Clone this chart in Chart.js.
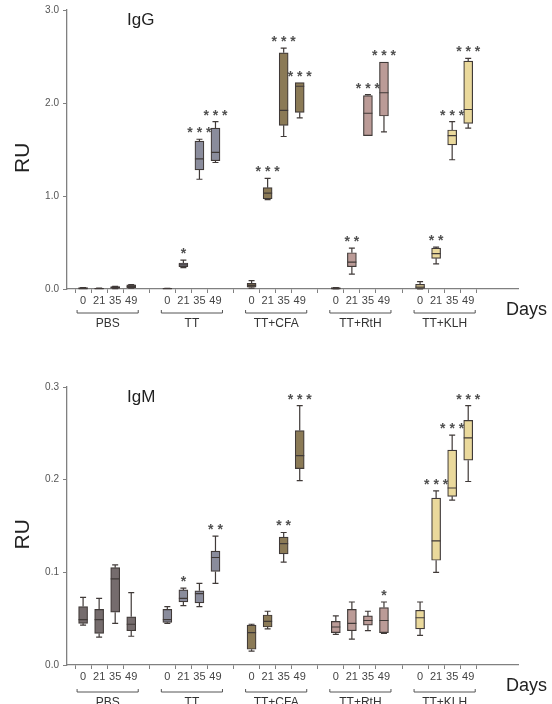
<!DOCTYPE html>
<html>
<head>
<meta charset="utf-8">
<script src="https://cdn.jsdelivr.net/npm/chart.js@4.4.1/dist/chart.umd.min.js"></script>
<style>
  html, body { margin: 0; padding: 0; background: #fff; }
  .panel { position: absolute; left: 0; width: 552px; height: 352px; }
</style>
</head>
<body>
<div class="panel" style="top:0"><canvas id="igg" width="552" height="352"></canvas></div>
<div class="panel" style="top:352px"><canvas id="igm" width="552" height="352"></canvas></div>
<script>
const groups = ['PBS', 'TT', 'TT+CFA', 'TT+RtH', 'TT+KLH'];
const days = ['0', '21', '35', '49'];
const groupColors = ['#756c6d', '#8a8c9c', '#8b7a56', '#bb9b97', '#ead99c'];

// IgG, RU - order: group by group, days 0/21/35/49
const igGMin = [0, 0, 0.005, 0.01, 0, 0.23, 1.18, 1.36, 0.01, 0.96, 1.64, 1.84, 0, 0.16, 1.65, 1.69, 0, 0.27, 1.39, 1.73];
const igGQ1 = [0, 0, 0.01, 0.015, 0, 0.24, 1.28, 1.38, 0.02, 0.97, 1.76, 1.90, 0.002, 0.24, 1.65, 1.86, 0.005, 0.33, 1.55, 1.78];
const igGMed = [0.005, 0.004, 0.015, 0.025, 0.003, 0.26, 1.40, 1.47, 0.04, 1.03, 1.92, 2.18, 0.005, 0.29, 1.89, 2.11, 0.02, 0.38, 1.65, 1.93];
const igGQ3 = [0.014, 0.008, 0.025, 0.045, 0.006, 0.28, 1.59, 1.73, 0.06, 1.09, 2.54, 2.22, 0.014, 0.39, 2.08, 2.44, 0.05, 0.44, 1.71, 2.45];
const igGMax = [0.016, 0.01, 0.028, 0.048, 0.008, 0.31, 1.61, 1.80, 0.09, 1.19, 2.59, 2.22, 0.016, 0.44, 2.09, 2.44, 0.08, 0.45, 1.80, 2.48];
const igGStars = ['', '', '', '', '', '*', '***', '***', '', '***', '***', '***', '', '**', '***', '***', '', '**', '***', '***'];
const igGTicks = [0, 1, 2, 3];

// IgM, RU
const igMMin = [0.043, 0.030, 0.045, 0.031, 0.045, 0.064, 0.063, 0.088, 0.015, 0.039, 0.111, 0.199, 0.033, 0.028, 0.037, 0.034, 0.032, 0.100, 0.178, 0.198];
const igMQ1 = [0.045, 0.034, 0.057, 0.037, 0.046, 0.068, 0.067, 0.101, 0.017, 0.041, 0.120, 0.212, 0.035, 0.037, 0.043, 0.035, 0.039, 0.113, 0.182, 0.221];
const igMMed = [0.049, 0.049, 0.093, 0.044, 0.049, 0.072, 0.077, 0.116, 0.035, 0.047, 0.131, 0.226, 0.041, 0.045, 0.048, 0.048, 0.051, 0.134, 0.191, 0.245];
const igMQ3 = [0.063, 0.060, 0.105, 0.052, 0.060, 0.081, 0.080, 0.123, 0.043, 0.054, 0.138, 0.253, 0.047, 0.060, 0.053, 0.062, 0.059, 0.180, 0.232, 0.264];
const igMMax = [0.073, 0.072, 0.108, 0.078, 0.063, 0.083, 0.088, 0.139, 0.044, 0.058, 0.143, 0.280, 0.053, 0.068, 0.058, 0.068, 0.068, 0.188, 0.248, 0.280];
const igMStars = ['', '', '', '', '', '*', '', '**', '', '', '**', '***', '', '', '', '*', '', '***', '***', '***'];
const igMTicks = [0, 0.1, 0.2, 0.3];

const GROUP_STEP = 5.25;
const xPositions = groups.flatMap((g, gi) => days.map((d, di) => gi * GROUP_STEP + di));

const FONT = "'Liberation Sans', Arial, sans-serif";
const AXIS_COLOR = '#808080';
const LINE_COLOR = '#403a38';
const BOX_W = 9;

// whiskers, medians, stars, brackets and labels
const boxExtras = {
  id: 'boxExtras',
  afterDatasetsDraw(chart) {
    const o = chart.options.plugins.boxExtras;
    const xs = chart.scales.x;
    const ys = chart.scales.y;
    const ctx = chart.ctx;
    ctx.save();
    ctx.strokeStyle = LINE_COLOR;
    ctx.lineWidth = 1.2;
    xPositions.forEach((pos, i) => {
      const x = xs.getPixelForValue(pos);
      const yMin = ys.getPixelForValue(o.min[i]);
      const yQ1 = ys.getPixelForValue(o.q1[i]);
      const yQ3 = ys.getPixelForValue(o.q3[i]);
      const yMax = ys.getPixelForValue(o.max[i]);
      const yMed = ys.getPixelForValue(o.med[i]);
      ctx.beginPath();
      if (o.max[i] > o.q3[i]) {
        ctx.moveTo(x, yQ3); ctx.lineTo(x, yMax);
        ctx.moveTo(x - 3, yMax); ctx.lineTo(x + 3, yMax);
      }
      if (o.min[i] < o.q1[i]) {
        ctx.moveTo(x, yQ1); ctx.lineTo(x, yMin);
        ctx.moveTo(x - 3, yMin); ctx.lineTo(x + 3, yMin);
      }
      ctx.moveTo(x - BOX_W / 2, yMed); ctx.lineTo(x + BOX_W / 2, yMed);
      ctx.stroke();

      if (o.stars[i]) {
        ctx.fillStyle = '#505050';
        ctx.font = 'bold 14px ' + FONT;
        ctx.textAlign = 'center';
        ctx.textBaseline = 'alphabetic';
        ctx.fillText(o.stars[i].split('').join(' '), x, yMax - 2);
      }
    });
    ctx.restore();
  },
  afterDraw(chart) {
    const o = chart.options.plugins.boxExtras;
    const xs = chart.scales.x;
    const area = chart.chartArea;
    const ctx = chart.ctx;
    ctx.save();

    // panel title
    ctx.fillStyle = '#222';
    ctx.font = '17px ' + FONT;
    ctx.textAlign = 'left';
    ctx.textBaseline = 'alphabetic';
    ctx.fillText(o.title, area.left + 60, area.top + 15);

    // RU axis title
    ctx.save();
    ctx.translate(23, area.top + (area.bottom - area.top) * 0.53);
    ctx.rotate(-Math.PI / 2);
    ctx.font = '21px ' + FONT;
    ctx.textAlign = 'center';
    ctx.textBaseline = 'middle';
    ctx.fillText('RU', 0, 0);
    ctx.restore();

    // Days
    ctx.font = '18px ' + FONT;
    ctx.fillText('Days', 506, area.bottom + 26);

    // group brackets
    const yb = area.bottom + o.bracketOffset;
    ctx.strokeStyle = '#555';
    ctx.lineWidth = 1;
    ctx.fillStyle = '#333';
    ctx.font = '12px ' + FONT;
    ctx.textAlign = 'center';
    ctx.textBaseline = 'middle';
    groups.forEach((g, gi) => {
      const x0 = xs.getPixelForValue(xPositions[gi * 4]) - 6;
      const x1 = xs.getPixelForValue(xPositions[gi * 4 + 3]) + 7;
      ctx.beginPath();
      ctx.moveTo(x0, yb - 3); ctx.lineTo(x0, yb); ctx.lineTo(x1, yb); ctx.lineTo(x1, yb - 3);
      ctx.stroke();
      ctx.fillText(g, (x0 + x1) / 2, yb + 11);
    });
    ctx.restore();
  }
};

function buildPanel(canvasId, cfg) {
  return new Chart(document.getElementById(canvasId), {
    type: 'bar',
    data: {
      datasets: [{
        data: xPositions.map((pos, i) => ({ x: pos, y: [cfg.q1[i], cfg.q3[i]] })),
        backgroundColor: xPositions.map((_, i) => groupColors[Math.floor(i / 4)]),
        borderColor: LINE_COLOR,
        borderWidth: 1.2,
        borderSkipped: false,
        barThickness: BOX_W
      }]
    },
    options: {
      responsive: false,
      animation: false,
      layout: { padding: { top: cfg.padTop, right: 34, left: 0, bottom: 0 } },
      plugins: {
        legend: { display: false },
        tooltip: { enabled: false },
        boxExtras: cfg
      },
      scales: {
        x: {
          type: 'linear',
          min: -0.3,
          max: 26.4,
          afterBuildTicks: axis => { axis.ticks = xPositions.map(v => ({ value: v })); },
          afterFit: axis => { axis.height = cfg.xHeight; },
          grid: { drawOnChartArea: false, tickLength: 4, color: AXIS_COLOR },
          border: { color: AXIS_COLOR, width: 1.3 },
          ticks: {
            autoSkip: false,
            maxRotation: 0,
            padding: 1,
            color: '#444',
            font: { family: FONT, size: 11 },
            callback: (v, i) => days[i % 4]
          }
        },
        y: {
          min: 0,
          max: cfg.ticks[cfg.ticks.length - 1],
          afterBuildTicks: axis => { axis.ticks = cfg.ticks.map(v => ({ value: v })); },
          afterFit: axis => { axis.width = 67; },
          grid: { drawOnChartArea: false, tickLength: 4, color: AXIS_COLOR },
          border: { color: AXIS_COLOR, width: 1.3 },
          ticks: {
            padding: 4,
            color: '#555',
            font: { family: FONT, size: 10 },
            callback: v => v.toFixed(1)
          }
        }
      }
    },
    plugins: [boxExtras]
  });
}

buildPanel('igg', {
  title: 'IgG', min: igGMin, q1: igGQ1, med: igGMed, q3: igGQ3, max: igGMax,
  stars: igGStars, ticks: igGTicks, padTop: 10, xHeight: 63, bracketOffset: 24
});

buildPanel('igm', {
  title: 'IgM', min: igMMin, q1: igMQ1, med: igMMed, q3: igMQ3, max: igMMax,
  stars: igMStars, ticks: igMTicks, padTop: 35, xHeight: 39, bracketOffset: 27
});
</script>
</body>
</html>
